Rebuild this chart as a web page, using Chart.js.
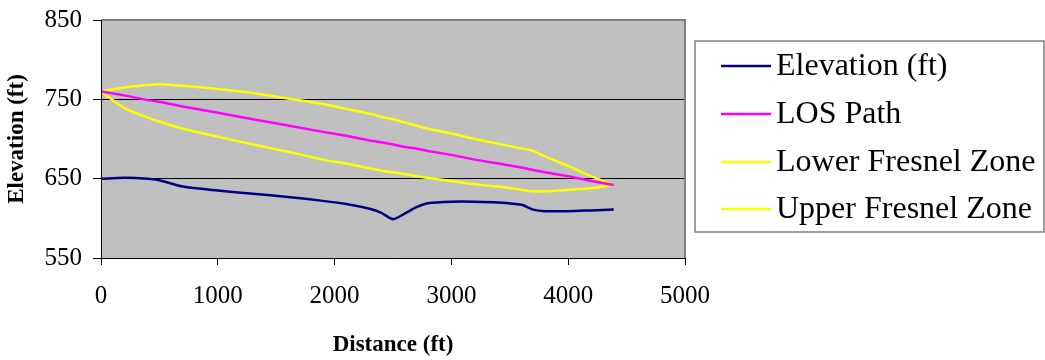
<!DOCTYPE html>
<html>
<head>
<meta charset="utf-8">
<script src="https://cdn.jsdelivr.net/npm/chart.js@4"></script>
<style>
  body { margin: 0; background: #fff; }
  #wrap { width: 1045px; height: 360px; position: relative; }
</style>
</head>
<body>
<div id="wrap"><canvas id="losChart"></canvas></div>
<script>
const distances = [0, 200, 400, 500, 700, 1000, 1300, 1600, 1900, 2100, 2300, 2400, 2500,
  2600, 2700, 2800, 3000, 3200, 3400, 3600, 3700, 3800, 4000, 4200, 4390];
const elevation = [650, 651, 650, 648, 640, 635, 631, 627, 622, 618, 612, 607, 599,
  606, 614, 619, 621, 621, 620, 617, 611, 609, 609, 610, 611];
const losPath = [760, 755, 749, 747, 741, 733, 725, 717, 709, 704, 698, 696, 693,
  690, 688, 685, 680, 674, 669, 664, 661, 658, 653, 647, 642];
const lowerZone = [760, 739, 727, 722, 713, 703, 693, 684, 674, 669, 663, 660, 658,
  656, 653, 651, 647, 643, 640, 636, 634, 634, 636, 638, 642];
const upperZone = [760, 765, 768, 769, 767, 763, 758, 751, 744, 738, 732, 728, 725,
  721, 717, 713, 707, 700, 694, 688, 685, 678, 666, 653, 642];
const seriesNames = ['Elevation (ft)', 'LOS Path', 'Lower Fresnel Zone', 'Upper Fresnel Zone'];
const xTicks = [0, 1000, 2000, 3000, 4000, 5000];
const yTicks = [550, 650, 750, 850];

const SERIF = "'Liberation Serif', 'Times New Roman', serif";

function toPoints(vals) {
  return distances.map((d, i) => ({ x: d, y: vals[i] }));
}

// grey plot area + border
const plotBg = {
  id: 'plotBg',
  beforeDraw(chart) {
    const { ctx, chartArea: a } = chart;
    ctx.save();
    ctx.fillStyle = '#c0c0c0';
    ctx.fillRect(a.left, a.top, a.right - a.left, a.bottom - a.top);
    ctx.restore();
  },
  afterDraw(chart) {
    const { ctx, chartArea: a } = chart;
    ctx.save();
    ctx.strokeStyle = '#808080';
    ctx.lineWidth = 2;
    ctx.beginPath();
    ctx.moveTo(a.left, a.top);
    ctx.lineTo(a.right, a.top);
    ctx.lineTo(a.right, a.bottom);
    ctx.stroke();
    ctx.strokeStyle = '#000';
    ctx.lineWidth = 1;
    ctx.beginPath();
    ctx.moveTo(a.left + 0.5, a.top);
    ctx.lineTo(a.left + 0.5, a.bottom + 0.5);
    ctx.lineTo(a.right, a.bottom + 0.5);
    ctx.stroke();
    ctx.restore();
  }
};

// boxed legend on the right, like the original
const boxLegend = {
  id: 'boxLegend',
  afterDraw(chart) {
    const ctx = chart.ctx;
    ctx.save();
    ctx.fillStyle = '#fff';
    ctx.fillRect(695, 41, 349, 191);
    ctx.strokeStyle = '#808080';
    ctx.lineWidth = 1.5;
    ctx.strokeRect(695, 41, 349, 191);
    const rows = [66, 114, 162, 209];
    ctx.font = '32px ' + SERIF;
    ctx.textBaseline = 'middle';
    chart.data.datasets.forEach((ds, i) => {
      ctx.strokeStyle = ds.borderColor;
      ctx.lineWidth = 2.5;
      ctx.beginPath();
      ctx.moveTo(721, rows[i]);
      ctx.lineTo(771, rows[i]);
      ctx.stroke();
      ctx.fillStyle = '#000';
      ctx.fillText(ds.label, 776, rows[i] + 1);
    });
    ctx.restore();
  }
};

const colors = ['#000080', '#ff00ff', '#ffff00', '#ffff00'];
const seriesVals = [elevation, losPath, lowerZone, upperZone];

new Chart(document.getElementById('losChart'), {
  type: 'scatter',
  data: {
    datasets: seriesVals.map((vals, i) => ({
      label: seriesNames[i],
      data: toPoints(vals),
      showLine: true,
      borderColor: colors[i],
      backgroundColor: colors[i],
      borderWidth: 2.5,
      pointRadius: 0,
      tension: i === 1 ? 0 : 0.25
    }))
  },
  options: {
    responsive: true,
    maintainAspectRatio: false,
    animation: false,
    layout: { padding: { top: 20, right: 360, left: 0, bottom: 0 } },
    plugins: {
      legend: { display: false },
      tooltip: { enabled: false }
    },
    scales: {
      x: {
        type: 'linear',
        min: 0,
        max: 5000,
        afterFit(s) { s.height = 102; s.paddingLeft = 0; s.paddingRight = 0; },
        afterBuildTicks(s) { s.ticks = xTicks.map(v => ({ value: v })); },
        grid: { drawOnChartArea: false, tickLength: 7, tickColor: '#000' },
        border: { display: false },
        ticks: {
          color: '#000', padding: 16, maxRotation: 0,
          font: { family: SERIF, size: 25 },
          callback: v => String(v)
        },
        title: {
          display: true, text: 'Distance (ft)', color: '#000',
          padding: { top: 0, bottom: 1 },
          font: { family: SERIF, size: 23, weight: 'bold' }
        }
      },
      y: {
        min: 550,
        max: 850,
        afterFit(s) { s.width = 101; s.paddingTop = 0; s.paddingBottom = 0; },
        afterBuildTicks(s) { s.ticks = yTicks.map(v => ({ value: v })); },
        grid: {
          tickLength: 8,
          tickColor: '#000',
          color: c => (c.tick && (c.tick.value === 650 || c.tick.value === 750)) ? '#000' : 'rgba(0,0,0,0)'
        },
        border: { display: false },
        ticks: { color: '#000', padding: 11, font: { family: SERIF, size: 25 }, callback: v => String(v) },
        title: {
          display: true, text: 'Elevation (ft)', color: '#000',
          padding: { top: 3, bottom: 0 },
          font: { family: SERIF, size: 23, weight: 'bold' }
        }
      }
    }
  },
  plugins: [plotBg, boxLegend]
});
</script>
</body>
</html>
